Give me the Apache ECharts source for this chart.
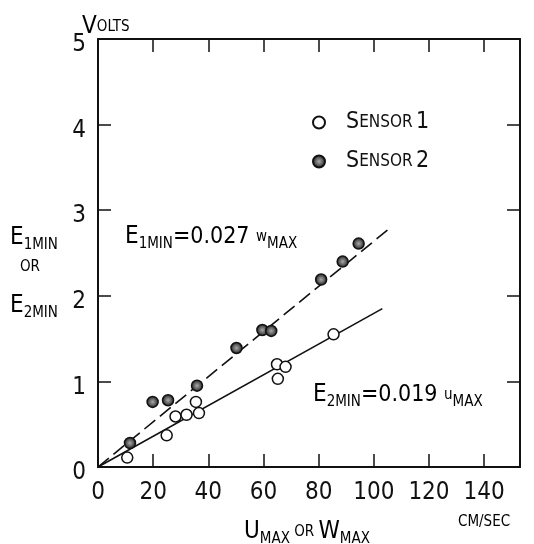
<!DOCTYPE html>
<html>
<head>
<meta charset="utf-8">
<script src="https://cdn.jsdelivr.net/npm/echarts@6/dist/echarts.min.js"></script>
<style>
  html, body { margin: 0; padding: 0; background: #fff; }
  #chart { width: 534px; height: 544px; }
</style>
</head>
<body>
<div id="chart"></div>
<script>
const FONT = "'Liberation Sans Narrow', 'DejaVu Sans Condensed', sans-serif";
const INK = "#111";

// tick labels
const xTickLabels = [0, 20, 40, 60, 80, 100, 120, 140];
const yTickLabels = [0, 1, 2, 3, 4, 5];

// sensor 1 (open circles)
const sensor1U = [10.6, 24.9, 28.1, 32.1, 35.5, 36.6, 64.9, 68.0, 65.2, 85.4];
const sensor1E = [0.11, 0.37, 0.59, 0.61, 0.76, 0.63, 1.20, 1.17, 1.03, 1.55];

// sensor 2 (shaded circles)
const sensor2W = [11.6, 19.8, 25.4, 35.9, 50.2, 59.6, 62.8, 80.9, 88.7, 94.5];
const sensor2E = [0.28, 0.76, 0.78, 0.95, 1.39, 1.60, 1.59, 2.19, 2.40, 2.61];

// fitted lines, end points
const fit1X = [0, 105.4];
const fit1Y = [0, 2.78];
const fit2X = [0, 103.1];
const fit2Y = [0, 1.85];

const zip = (a, b) => a.map((v, i) => [v, b[i]]);

const chart = echarts.init(document.getElementById("chart"));

const big = { fontFamily: FONT, fontSize: 24, color: INK, verticalAlign: "middle" };
const sub = { fontFamily: FONT, fontSize: 15, color: INK, verticalAlign: "middle", padding: [14, 0, 0, 0] };
const small = { fontFamily: FONT, fontSize: 15, color: INK, verticalAlign: "middle" };
const richText = { big, sub, small, num: { fontFamily: FONT, fontSize: 23, color: INK, verticalAlign: "middle" } };

const frameAxis = (extra) => Object.assign({
  type: "value",
  axisLine: { show: true, onZero: false, lineStyle: { color: INK, width: 2 } },
  axisTick: { show: true, inside: true, length: 13, lineStyle: { color: INK, width: 1.5 } },
  splitLine: { show: false },
}, extra);

const shaded = new echarts.graphic.RadialGradient(0.5, 0.5, 0.5, [
  { offset: 0, color: "#aaa" },
  { offset: 0.6, color: "#555" },
  { offset: 1, color: "#111" },
]);

const option = {
  animation: false,
  backgroundColor: "#fff",
  grid: { left: 98, right: 14, top: 39, bottom: 77 },
  legend: {
    data: ["Sensor 1", "Sensor 2"],
    orient: "vertical",
    left: 307,
    top: 106,
    itemGap: 16,
    itemWidth: 12,
    itemHeight: 12,
    formatter: (name) => "{s|S}{e|ENSOR} {s|" + name.slice(-1) + "}",
    textStyle: {
      padding: [0, 0, 0, 16],
      rich: {
        s: { fontFamily: FONT, fontSize: 23, color: INK },
        e: { fontFamily: FONT, fontSize: 17, color: INK },
      },
    },
  },
  xAxis: [
    frameAxis({
      min: 0, max: 153, interval: 20,
      axisLabel: {
        margin: 14, fontFamily: FONT, fontSize: 24, color: INK,
        formatter: (v) => (xTickLabels.includes(v) ? String(v) : ""),
      },
    }),
    frameAxis({ position: "top", min: 0, max: 153, interval: 20, axisLabel: { show: false } }),
  ],
  yAxis: [
    frameAxis({
      min: 0, max: 5, interval: 1,
      axisLabel: {
        margin: 12, fontFamily: FONT, fontSize: 24, color: INK,
        verticalAlign: "top", lineHeight: 12,
        formatter: (v) => (yTickLabels.includes(v) ? String(v) : ""),
      },
    }),
    frameAxis({ position: "right", min: 0, max: 5, interval: 1, axisLabel: { show: false } }),
  ],
  graphic: [
    { type: "text", left: 82, top: 15, style: { text: "{big|V}{small|OLTS}", rich: richText } },
    { type: "text", left: 10, top: 226, style: { text: "{big|E}{sub|1MIN}", rich: richText } },
    { type: "text", left: 20, top: 260, style: { text: "{small|OR}", rich: richText } },
    { type: "text", left: 10, top: 294, style: { text: "{big|E}{sub|2MIN}", rich: richText } },
    { type: "text", left: 125, top: 225, style: { text: "{big|E}{sub|1MIN}{num|=0.027 }{small|w}{sub|MAX}", rich: richText } },
    { type: "text", left: 313, top: 383, style: { text: "{big|E}{sub|2MIN}{num|=0.019 }{small|u}{sub|MAX}", rich: richText } },
    { type: "text", left: 458, top: 515, style: { text: "{small|CM/SEC}", rich: richText } },
    { type: "text", left: 244, top: 520, style: { text: "{big|U}{sub|MAX}{small| OR }{big|W}{sub|MAX}", rich: richText } },
  ],
  series: [
    {
      name: "fit sensor 2",
      type: "line",
      data: zip(fit1X, fit1Y),
      symbol: "none",
      lineStyle: { color: INK, width: 1.6, type: [14, 6] },
      z: 1,
    },
    {
      name: "fit sensor 1",
      type: "line",
      data: zip(fit2X, fit2Y),
      symbol: "none",
      lineStyle: { color: INK, width: 1.6 },
      z: 1,
    },
    {
      name: "Sensor 1",
      type: "scatter",
      data: zip(sensor1U, sensor1E),
      symbol: "circle",
      symbolSize: 11,
      itemStyle: { color: "#fff", borderColor: INK, borderWidth: 1.5, opacity: 1 },
      z: 3,
    },
    {
      name: "Sensor 2",
      type: "scatter",
      data: zip(sensor2W, sensor2E),
      symbol: "circle",
      symbolSize: 11,
      itemStyle: { color: shaded, borderColor: INK, borderWidth: 1.5, opacity: 1 },
      z: 3,
    },
  ],
};

chart.setOption(option);
window.addEventListener("resize", () => chart.resize());
</script>
</body>
</html>
